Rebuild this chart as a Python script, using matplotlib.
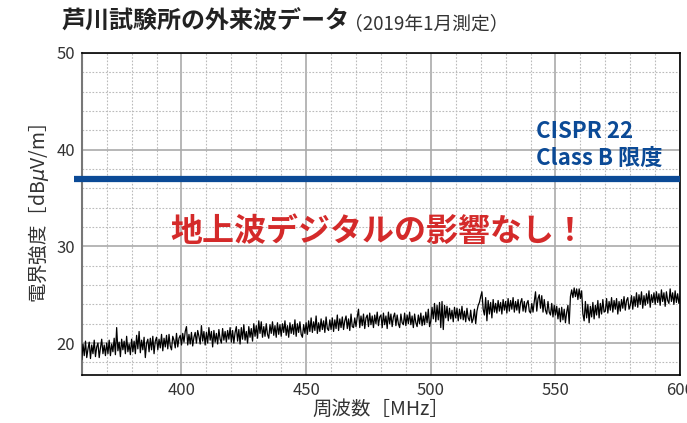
import numpy as np
import matplotlib
matplotlib.use("Agg")
import matplotlib.pyplot as plt
from matplotlib.ticker import MultipleLocator

plt.rcParams['font.family'] = ['Noto Sans CJK JP', 'DejaVu Sans']

# measured field strength, 0.5 MHz steps from 360 to 600 MHz (one row = 10 MHz)
freq_start = 360
freq_step = 0.5
level = [
    18.3, 19.9, 18.7, 20.2, 18.5, 19.4, 20.1, 18.4, 19.8, 18.9, 20.3, 18.6, 19.6, 20.0, 18.5, 19.5, 20.4, 18.9, 19.8, 18.7,
    20.0, 18.9, 20.3, 18.7, 19.9, 19.1, 20.5, 18.8, 21.6, 19.2, 20.1, 18.6, 20.4, 19.3, 20.2, 18.9, 20.7, 19.1, 19.9, 18.8,
    20.4, 19.1, 20.2, 18.9, 20.8, 19.4, 21.2, 19.0, 20.3, 19.3, 20.6, 18.5, 20.0, 20.4, 19.1, 20.5, 19.3, 20.7, 18.9, 20.2,
    20.6, 19.3, 20.4, 19.5, 20.9, 19.2, 20.5, 19.6, 20.8, 19.4, 20.9, 19.7, 19.3, 20.7, 20.3, 19.5, 21.0, 19.6, 20.5, 20.8,
    19.8, 21.0, 20.1, 21.2, 21.7, 19.8, 20.9, 19.9, 21.1, 19.7, 20.6, 21.1, 20.0, 21.3, 20.7, 19.9, 21.8, 20.2, 21.2, 19.8,
    21.1, 20.0, 21.6, 20.3, 21.2, 19.6, 21.3, 20.1, 21.0, 19.9, 21.4, 20.4, 20.0, 21.5, 20.3, 21.2, 20.1, 21.3, 20.4, 21.6,
    20.1, 21.3, 20.0, 21.1, 21.7, 20.2, 21.4, 19.9, 21.6, 20.4, 21.9, 20.3, 21.2, 20.0, 21.7, 20.6, 21.5, 20.2, 22.0, 20.7,
    21.8, 20.5, 22.3, 21.0, 22.2, 20.6, 21.7, 20.7, 22.0, 20.9, 20.5, 21.9, 21.0, 22.2, 20.8, 21.8, 20.6, 22.1, 20.9, 21.9,
    20.7, 22.0, 21.1, 22.3, 20.8, 21.8, 20.6, 22.1, 21.0, 21.9, 20.9, 22.4, 20.7, 22.0, 21.1, 22.2, 20.9, 20.6, 21.9, 21.0,
    22.1, 20.9, 22.3, 21.2, 22.6, 21.1, 22.2, 21.3, 22.8, 21.0, 22.1, 21.2, 22.5, 21.4, 22.3, 21.1, 22.7, 21.5, 21.3, 22.4,
    21.4, 22.6, 21.2, 22.4, 21.5, 22.9, 21.3, 22.5, 21.6, 22.7, 21.4, 22.3, 22.8, 21.5, 22.5, 21.3, 23.0, 21.7, 21.6, 22.6,
    21.7, 22.7, 23.5, 21.6, 22.8, 21.8, 23.0, 21.5, 22.6, 22.9, 21.7, 23.1, 21.9, 22.8, 21.6, 22.9, 22.0, 23.2, 21.8, 22.7,
    22.9, 21.6, 23.1, 21.9, 22.8, 21.5, 23.2, 22.0, 23.0, 21.7, 22.7, 23.1, 21.8, 22.9, 22.0, 21.6, 23.0, 22.1, 21.9, 23.1,
    21.8, 22.9, 22.0, 23.2, 21.9, 22.8, 21.6, 23.0, 22.1, 21.7, 22.9, 22.0, 23.1, 21.8, 22.8, 21.9, 23.2, 22.1, 23.5, 21.7,
    22.3, 23.7, 22.5, 24.1, 22.2, 23.9, 22.4, 24.2, 21.6, 24.3, 21.4, 23.9, 22.6, 23.8, 22.3, 23.6, 22.5, 23.4, 22.2, 23.7,
    22.6, 23.6, 22.3, 23.5, 22.5, 23.8, 22.4, 23.3, 22.2, 23.6, 22.6, 22.3, 23.4, 22.1, 22.5, 23.5, 22.0, 23.3, 23.9, 24.2,
    24.8, 25.3, 23.5, 22.9, 24.7, 22.3, 24.4, 23.0, 24.2, 22.6, 24.5, 23.2, 24.1, 23.1, 24.4, 23.3, 24.2, 23.0, 24.5, 23.4,
    24.3, 23.1, 24.6, 23.3, 24.4, 23.5, 24.7, 23.2, 24.3, 23.4, 24.5, 23.1, 24.2, 24.6, 23.3, 24.3, 23.2, 24.1, 24.4, 23.3,
    23.1, 24.1, 23.2, 24.3, 25.3, 23.3, 24.6, 25.0, 23.6, 24.9, 23.2, 24.5, 23.4, 23.0, 24.3, 23.2, 22.9, 24.1, 22.7, 23.9,
    22.9, 23.8, 22.5, 23.6, 22.2, 23.7, 22.4, 23.5, 22.1, 23.2, 23.9, 22.0, 24.8, 25.5, 24.7, 25.7, 24.8, 25.6, 24.5, 25.6,
    24.6, 25.4, 23.0, 22.3, 24.3, 22.6, 24.0, 22.1, 23.8, 22.7, 24.2, 22.5, 23.9, 22.9, 24.4, 22.6, 24.1, 23.0, 24.5, 23.2,
    23.3, 24.6, 23.1, 24.3, 23.4, 24.7, 23.2, 24.4, 23.5, 24.6, 23.0, 24.3, 23.3, 24.5, 23.6, 24.8, 23.4, 24.4, 24.7, 23.5,
    23.9, 24.9, 23.5, 24.8, 23.8, 25.2, 23.7, 25.0, 24.0, 25.3, 23.6, 24.9, 23.9, 25.1, 24.1, 25.4, 23.7, 25.0, 24.2, 25.2,
    24.0, 25.3, 24.2, 25.1, 23.9, 25.5, 24.3, 25.2, 23.8, 25.3, 24.4, 24.1, 25.6, 24.3, 25.2, 24.0, 25.4, 24.2, 25.1, 24.1,
    24.8,
]
freq = freq_start + freq_step * np.arange(len(level))

limit_value = 37  # CISPR 22 Class B
xticks = [400, 450, 500, 550, 600]
yticks = [20, 30, 40, 50]

fig = plt.figure(figsize=(6.87, 4.23), dpi=100)
ax = fig.add_axes([0.119, 0.1135, 0.871, 0.7615])

ax.plot(freq, level, color='black', lw=0.9, zorder=3)
ax.plot([357, 600], [limit_value, limit_value], color='#0b4a96', lw=4.5,
        solid_capstyle='butt', clip_on=False, zorder=4)

ax.set_xlim(360, 600)
ax.set_ylim(16.7, 50)
ax.set_xticks(xticks)
ax.set_yticks(yticks)
ax.xaxis.set_minor_locator(MultipleLocator(10))
ax.yaxis.set_minor_locator(MultipleLocator(2))
ax.grid(which='major', color='#aaaaaa', lw=1.2, ls='-')
ax.grid(which='minor', color='#bbbbbb', lw=0.8, ls=(0, (1.5, 1.5)))
ax.set_axisbelow(True)
ax.tick_params(which='both', length=0, labelsize=12, labelcolor='#333333')
ax.tick_params(axis='x', pad=5)
ax.tick_params(axis='y', pad=5)
for s in ['top', 'bottom', 'right']:
    ax.spines[s].set_color('black')
    ax.spines[s].set_linewidth(1.2)
ax.spines['left'].set_color('#777777')
ax.spines['left'].set_linewidth(1.5)

ax.set_ylabel('電界強度［dB$\\mu$V/m］', fontsize=14, color='#333333', labelpad=4)
ax.set_xlabel('周波数［MHz］', fontsize=14, color='#333333', labelpad=0)

ax.text(542, 41.85, 'CISPR 22', color='#0b4a96', fontsize=16, fontweight='bold',
        va='center', ha='left')
ax.text(542, 39.1, 'Class B 限度', color='#0b4a96', fontsize=16, fontweight='bold',
        va='center', ha='left')
ax.text(479, 31.5, '地上波デジタルの影響なし！', color='#d42a2a', fontsize=23,
        fontweight='bold', va='center', ha='center')

fig.text(62 / 687, 1 - 22 / 423, '芦川試験所の外来波データ', fontsize=17.3,
         fontweight='bold', va='center', ha='left', color='#222222')
fig.text(344 / 687, 1 - 24 / 423, '（2019年1月測定）', fontsize=13.5,
         va='center', ha='left', color='#333333')

fig.savefig('out.png', dpi=100)
